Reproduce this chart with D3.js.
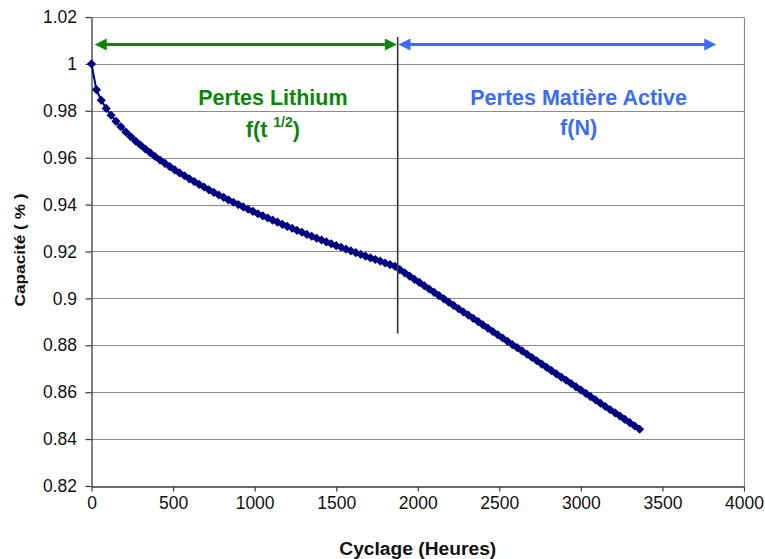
<!DOCTYPE html>
<html>
<head>
<meta charset="utf-8">
<script src="https://cdn.jsdelivr.net/npm/d3@7"></script>
<style>
  html, body { margin: 0; padding: 0; background: #ffffff; }
  svg { display: block; font-family: "Liberation Sans", Arial, sans-serif; }
</style>
</head>
<body>
<svg id="chart" width="765" height="559"></svg>
<script>
// Cycling time (hours)
const hours = [
  0, 30, 60, 90, 120, 150, 180, 210, 240, 270, 300, 330, 360, 390, 420, 450, 480, 510, 540, 570,
  600, 630, 660, 690, 720, 750, 780, 810, 840, 870, 900, 930, 960, 990, 1020, 1050, 1080, 1110, 1140, 1170,
  1200, 1230, 1260, 1290, 1320, 1350, 1380, 1410, 1440, 1470, 1500, 1530, 1560, 1590, 1620, 1650, 1680, 1710, 1740, 1770,
  1800, 1830, 1860, 1890, 1920, 1950, 1980, 2010, 2040, 2070, 2100, 2130, 2160, 2190, 2220, 2250, 2280, 2310, 2340, 2370,
  2400, 2430, 2460, 2490, 2520, 2550, 2580, 2610, 2640, 2670, 2700, 2730, 2760, 2790, 2820, 2850, 2880, 2910, 2940, 2970,
  3000, 3030, 3060, 3090, 3120, 3150, 3180, 3210, 3240, 3270, 3300, 3330, 3360
];

// Relative capacity
const capacity = [
  1.0000, 0.9890, 0.9845, 0.9810, 0.9781, 0.9755, 0.9732, 0.9710, 0.9690, 0.9671, 0.9654, 0.9637, 0.9621, 0.9605, 0.9590, 0.9576, 0.9562, 0.9548, 0.9535, 0.9523,
  0.9510, 0.9498, 0.9486, 0.9475, 0.9463, 0.9452, 0.9441, 0.9431, 0.9420, 0.9410, 0.9400, 0.9390, 0.9380, 0.9371, 0.9361, 0.9352, 0.9343, 0.9334, 0.9325, 0.9316,
  0.9307, 0.9299, 0.9290, 0.9282, 0.9273, 0.9265, 0.9257, 0.9249, 0.9241, 0.9233, 0.9225, 0.9218, 0.9210, 0.9203, 0.9195, 0.9188, 0.9180, 0.9173, 0.9166, 0.9159,
  0.9151, 0.9144, 0.9137, 0.9123, 0.9109, 0.9095, 0.9081, 0.9068, 0.9054, 0.9040, 0.9026, 0.9012, 0.8998, 0.8984, 0.8970, 0.8956, 0.8942, 0.8929, 0.8915, 0.8901,
  0.8887, 0.8873, 0.8859, 0.8845, 0.8831, 0.8817, 0.8803, 0.8790, 0.8776, 0.8762, 0.8748, 0.8734, 0.8720, 0.8706, 0.8692, 0.8678, 0.8664, 0.8651, 0.8637, 0.8623,
  0.8609, 0.8595, 0.8581, 0.8567, 0.8553, 0.8539, 0.8525, 0.8512, 0.8498, 0.8484, 0.8470, 0.8456, 0.8442
];

const xTicks = [0, 500, 1000, 1500, 2000, 2500, 3000, 3500, 4000];
const yTicks = [0.82, 0.84, 0.86, 0.88, 0.9, 0.92, 0.94, 0.96, 0.98, 1, 1.02];
const yTickLabels = ["0.82", "0.84", "0.86", "0.88", "0.9", "0.92", "0.94", "0.96", "0.98", "1", "1.02"];

// Two ageing regimes separated at the break point
const breakHour = 1877;
const regimeNames = ["Pertes Lithium", "Pertes Matière Active"];
const regimeLaws = ["f(t", "f(N)"];
const regimeSpans = [[20, 1872], [1882, 3830]];
const regimeCentres = [1112, 2986];

const svg = d3.select("#chart");
const plot = { left: 91.5, right: 744, top: 17, bottom: 486 };

const x = d3.scaleLinear().domain([0, 4000]).range([plot.left, plot.right]);
const y = d3.scaleLinear().domain([0.82, 1.02]).range([plot.bottom, plot.top]);

const gridColor = "#8c8c8c";
const axisColor = "#3a3a3a";
const green = "#0a860a";
const blue = "#3a6cf4";
const navy = "#000080";

// Horizontal gridlines
svg.append("g")
  .selectAll("line")
  .data(yTicks.slice(1))
  .join("line")
  .attr("x1", plot.left)
  .attr("x2", plot.right)
  .attr("y1", d => Math.round(y(d)) + 0.5)
  .attr("y2", d => Math.round(y(d)) + 0.5)
  .attr("stroke", gridColor)
  .attr("stroke-width", 1.2);

// Right frame edge
svg.append("line")
  .attr("x1", Math.round(plot.right) + 0.5).attr("x2", Math.round(plot.right) + 0.5)
  .attr("y1", Math.round(y(1.02)) + 0.5).attr("y2", plot.bottom)
  .attr("stroke", gridColor)
  .attr("stroke-width", 1.2);

// Axes
const yAxis = d3.axisLeft(y)
  .tickValues(yTicks)
  .tickFormat((d, i) => yTickLabels[i])
  .tickSize(6)
  .tickSizeOuter(0)
  .tickPadding(8.5);

const xAxis = d3.axisBottom(x)
  .tickValues(xTicks)
  .tickFormat(d3.format("d"))
  .tickSize(5)
  .tickSizeOuter(0)
  .tickPadding(17);

const gy = svg.append("g")
  .attr("transform", `translate(${plot.left},0)`)
  .call(yAxis);

const gx = svg.append("g")
  .attr("transform", `translate(0,${Math.round(plot.bottom) + 0.5})`)
  .call(xAxis);

[gx, gy].forEach(g => {
  g.select(".domain").attr("stroke", axisColor).attr("stroke-width", 1.3);
  g.selectAll(".tick line").attr("stroke", axisColor).attr("stroke-width", 1.2);
  g.selectAll(".tick text")
    .attr("fill", "#111")
    .style("font-family", "'Liberation Sans', Arial, sans-serif")
    .style("font-size", "17.5px");
});
gx.selectAll(".tick text").attr("dy", "0");

// Axis titles
svg.append("text")
  .attr("x", (plot.left + plot.right) / 2)
  .attr("y", 554.5)
  .attr("text-anchor", "middle")
  .attr("font-weight", "bold")
  .attr("font-size", 18)
  .attr("textLength", 157)
  .attr("lengthAdjust", "spacingAndGlyphs")
  .attr("fill", "#111")
  .text("Cyclage (Heures)");

svg.append("text")
  .attr("transform", "translate(25,250) rotate(-90)")
  .attr("text-anchor", "middle")
  .attr("font-weight", "bold")
  .attr("font-size", 15)
  .attr("textLength", 113)
  .attr("lengthAdjust", "spacingAndGlyphs")
  .attr("fill", "#111")
  .text("Capacité ( % )");

// Capacity curve
const points = hours.map((h, i) => [h, capacity[i]]);

svg.append("path")
  .datum(points)
  .attr("fill", "none")
  .attr("stroke", navy)
  .attr("stroke-width", 2)
  .attr("d", d3.line().x(d => x(d[0])).y(d => y(d[1])));

const marker = d3.symbol().type(d3.symbolSquare).size(42);
svg.append("g")
  .selectAll("path")
  .data(points)
  .join("path")
  .attr("d", marker)
  .attr("transform", d => `translate(${x(d[0])},${y(d[1])}) rotate(45)`)
  .attr("fill", navy);

// Regime divider
svg.append("line")
  .attr("x1", x(breakHour)).attr("x2", x(breakHour))
  .attr("y1", y(1.0115)).attr("y2", y(0.885))
  .attr("stroke", "#333")
  .attr("stroke-width", 1.6);

// Double-sided range arrows
function arrow(x0, x1, yy, color, headStart, headEnd) {
  const g = svg.append("g");
  const head = 12, half = 6;
  g.append("line")
    .attr("x1", headStart ? x0 + head - 1 : x0)
    .attr("x2", headEnd ? x1 - head + 1 : x1)
    .attr("y1", yy).attr("y2", yy)
    .attr("stroke", color)
    .attr("stroke-width", 3);
  if (headStart) {
    g.append("path")
      .attr("d", `M${x0},${yy} L${x0 + head},${yy - half} L${x0 + head},${yy + half} Z`)
      .attr("fill", color);
  }
  if (headEnd) {
    g.append("path")
      .attr("d", `M${x1},${yy} L${x1 - head},${yy - half} L${x1 - head},${yy + half} Z`)
      .attr("fill", color);
  }
}

const arrowY = y(1.0083);
arrow(x(regimeSpans[0][0]), x(regimeSpans[0][1]), arrowY, green, true, true);
arrow(x(regimeSpans[1][0]), x(regimeSpans[1][1]), arrowY, blue, true, true);

// Regime labels
const regimeColors = [green, blue];
regimeNames.forEach((name, i) => {
  svg.append("text")
    .attr("x", x(regimeCentres[i]))
    .attr("y", y(0.9825))
    .attr("text-anchor", "middle")
    .attr("font-weight", "bold")
    .attr("font-size", 21.5)
    .attr("fill", regimeColors[i])
    .text(name);
});

// Lithium loss law: f(t^1/2)
const lawLi = svg.append("text")
  .attr("x", x(regimeCentres[0]))
  .attr("y", y(0.9688))
  .attr("text-anchor", "middle")
  .attr("font-weight", "bold")
  .attr("font-size", 21.5)
  .attr("fill", green);
lawLi.append("tspan").text(regimeLaws[0] + " ");
lawLi.append("tspan").attr("dy", -10).attr("font-size", 14).text("1/2");
lawLi.append("tspan").attr("dy", 10).text(")");

// Active material loss law: f(N)
svg.append("text")
  .attr("x", x(regimeCentres[1]))
  .attr("y", y(0.9695))
  .attr("text-anchor", "middle")
  .attr("font-weight", "bold")
  .attr("font-size", 21.5)
  .attr("fill", blue)
  .text(regimeLaws[1]);
</script>
</body>
</html>
